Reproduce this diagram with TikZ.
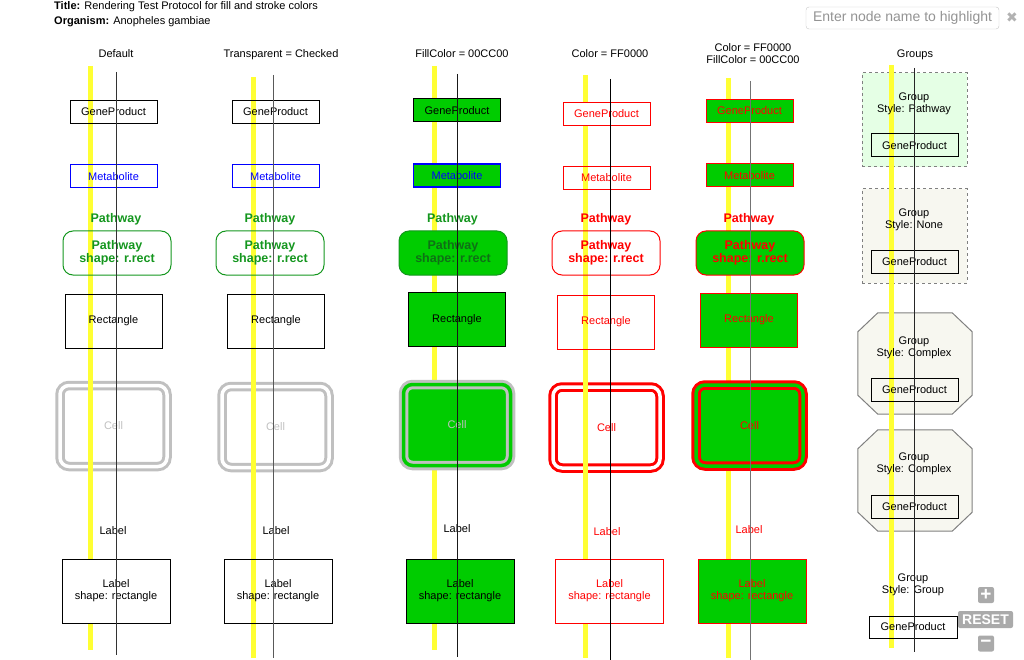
\documentclass[tikz,border=0pt]{standalone}
\usepackage{fontspec}
\setmainfont{Liberation Sans}
\newfontfamily\symfont{DejaVu Sans}
\definecolor{pwgreen}{HTML}{14961E}
\definecolor{fillgreen}{HTML}{00CC00}
\definecolor{cellgray}{HTML}{C0C0C0}
\definecolor{grppath}{HTML}{E5FFE5}
\definecolor{grpcplx}{HTML}{F7F7F0}
\definecolor{ctrlgray}{HTML}{AAAAAA}
\definecolor{hiyellow}{HTML}{FFFF33}
\tikzset{
  txt/.style={font=\fontsize{11}{12}\selectfont, inner sep=0pt, align=center},
  gene/.style={txt, draw, line width=1, minimum width=87, minimum height=23},
  metab/.style={gene, draw=blue, text=blue},
  pwtitle/.style={inner sep=0pt, font=\bfseries\fontsize{12.5}{13}\selectfont, text=pwgreen},
  pwbox/.style={pwtitle, draw=pwgreen, line width=1, rounded corners=10, minimum width=108, minimum height=44, align=center},
  rectbox/.style={txt, draw, line width=1, minimum width=97, minimum height=54},
  cellbox/.style={txt, draw=cellgray, text=cellgray, line width=3, double=white, double distance=3.5, rounded corners=9, minimum width=107, minimum height=81},
  lblbox/.style={txt, draw, line width=1, minimum width=108, minimum height=64},
  grpbox/.style={draw=gray, line width=1, dashed, minimum width=105, minimum height=94},
  grpcore/.style={inner sep=0pt, minimum width=114, minimum height=101},
  cplxline/.style={draw=gray, line width=1, fill=grpcplx},
  hiline/.style={hiyellow, line width=5},
  gline/.style={line width=1},
  ctrl/.style={fill=ctrlgray, rounded corners=2, text=white, inner sep=0pt, font=\bfseries\fontsize{14}{14}\selectfont}
}
% octagon outline of a complex group round its node
\newcommand{\grpoctagon}[1]{%
  \draw[cplxline] ([xshift=20pt]#1.north west) -- ([xshift=-20pt]#1.north east)
    -- ([yshift=-19pt]#1.north east) -- ([yshift=19pt]#1.south east)
    -- ([xshift=-20pt]#1.south east) -- ([xshift=20pt]#1.south west)
    -- ([yshift=19pt]#1.south west) -- ([yshift=-19pt]#1.north west) -- cycle;}
\begin{document}
\begin{tikzpicture}[x=1pt,y=-1pt]
  \useasboundingbox (0,0) rectangle (1024,660);
  % title and search box
  \node[txt, anchor=west] (ttl) at (54,7) {\textbf{Title:} Rendering Test Protocol for fill and stroke colors};
  \node[txt, anchor=west] (org) at (54,22) {\textbf{Organism:} Anopheles gambiae};
  \node[draw=gray!45, rounded corners=3, minimum width=193, minimum height=22, inner sep=0pt,
    text=gray!85, font=\fontsize{14}{14}\selectfont] (search) at (902.5,18) {Enter node name to highlight};
  \node[inner sep=0pt, text=gray!60, font=\symfont\fontsize{14}{14}\selectfont] (clear) at (1012,18) {✖};
  % column headers
  \node[txt] (hd1) at (116,54) {Default};
  \node[txt] (hd2) at (281,54.5) {Transparent = Checked};
  \node[txt] (hd3) at (462,54) {FillColor = 00CC00};
  \node[txt] (hd4) at (610,54) {Color = FF0000};
  \node[txt] (hd5) at (753,53.5) {Color = FF0000\\FillColor = 00CC00};
  \node[txt] (hd6) at (915,55) {Groups};
  % group shapes
  \node[grpbox, fill=grppath] (grp1) at (914.5,120) {};
  \node[grpbox, fill=grpcplx] (grp2) at (914.5,236) {};
  \node[grpcore] (grp3) at (915,363.5) {};
  \node[grpcore] (grp4) at (915,480.5) {};
  \grpoctagon{grp3}
  \grpoctagon{grp4}
  % cells without fill
  \node[cellbox] (cell1) at (113.5,426) {Cell};
  \node[cellbox] (cell2) at (275.5,427) {Cell};
  \node[cellbox, draw=red, text=red] (cell4) at (606.5,427.5) {Cell};
  % highlight lines
  \coordinate (hi1a) at (90.5,66);  \coordinate (hi1b) at (90.5,650);
  \coordinate (hi2a) at (253.5,77); \coordinate (hi2b) at (253.5,658);
  \coordinate (hi3a) at (434,66);   \coordinate (hi3b) at (434,650);
  \coordinate (hi4a) at (585.5,75); \coordinate (hi4b) at (585.5,658);
  \coordinate (hi5a) at (728.5,78); \coordinate (hi5b) at (728.5,658);
  \coordinate (hi6a) at (891.5,65); \coordinate (hi6b) at (891.5,648);
  \draw[hiline] (hi1a) -- (hi1b);
  \draw[hiline] (hi2a) -- (hi2b);
  \draw[hiline] (hi3a) -- (hi3b);
  \draw[hiline] (hi4a) -- (hi4b);
  \draw[hiline] (hi5a) -- (hi5b);
  \draw[hiline] (hi6a) -- (hi6b);
  % groups
  \node[txt] (grp1t) at (914,103.5) {Group\\Style: Pathway};
  \node[gene] (grp1g) at (914.5,145.5) {GeneProduct};
  \node[txt] (grp2t) at (914,220) {Group\\Style: None};
  \node[gene] (grp2g) at (914.5,262) {GeneProduct};
  \node[txt] (grp3t) at (914,347.5) {Group\\Style: Complex};
  \node[gene] (grp3g) at (914.5,389.5) {GeneProduct};
  \node[txt] (grp4t) at (914,464) {Group\\Style: Complex};
  \node[gene] (grp4g) at (914.5,506.5) {GeneProduct};
  \node[txt] (grp5t) at (913,584.5) {Group\\Style: Group};
  \node[gene, minimum width=88, minimum height=22] (grp5g) at (913,627) {GeneProduct};
  % default
  \node[gene] (gp1) at (113.5,112) {GeneProduct};
  \node[metab] (met1) at (113.5,176.5) {Metabolite};
  \node[pwtitle] (pw1) at (116,219) {Pathway};
  \node[pwbox] (pwb1) at (117,253) {Pathway\\shape: r.rect};
  \node[rectbox] (rect1) at (113.5,321) {Rectangle};
  \node[txt] (lbl1) at (113,531) {Label};
  \node[lblbox, fill=white] (lblb1) at (116,591) {Label\\shape: rectangle};
  % transparent
  \node[gene] (gp2) at (275.5,112) {GeneProduct};
  \node[metab] (met2) at (275.5,176.5) {Metabolite};
  \node[pwtitle] (pw2) at (270,219) {Pathway};
  \node[pwbox] (pwb2) at (270,253) {Pathway\\shape: r.rect};
  \node[rectbox] (rect2) at (276,321) {Rectangle};
  \node[txt] (lbl2) at (276,531) {Label};
  \node[lblbox] (lblb2) at (278,591) {Label\\shape: rectangle};
  % fill 00CC00
  \node[gene, fill=fillgreen] (gp3) at (457,110.5) {GeneProduct};
  \node[metab, fill=fillgreen, line width=1.3] (met3) at (457,175.5) {Metabolite};
  \node[pwtitle] (pw3) at (452.5,219) {Pathway};
  \node[pwbox, fill=fillgreen, text=pwgreen!75!black] (pwb3) at (453,253) {Pathway\\shape: r.rect};
  \node[rectbox, fill=fillgreen] (rect3) at (457,319.5) {Rectangle};
  \node[cellbox, fill=fillgreen, double=fillgreen] (cell3) at (457,425) {Cell};
  \node[txt] (lbl3) at (457,529) {Label};
  \node[lblbox, fill=fillgreen] (lblb3) at (460,591) {Label\\shape: rectangle};
  % color FF0000
  \node[gene, draw=red, text=red, fill=white] (gp4) at (606.5,114) {GeneProduct};
  \node[metab, draw=red, text=red] (met4) at (606.5,178) {Metabolite};
  \node[pwtitle, text=red] (pw4) at (606,219) {Pathway};
  \node[pwbox, draw=red, text=red] (pwb4) at (606,253) {Pathway\\shape: r.rect};
  \node[rectbox, draw=red, text=red] (rect4) at (606,322) {Rectangle};
  \node[txt, text=red] (lbl4) at (607,532) {Label};
  \node[lblbox, draw=red, text=red, fill=white] (lblb4) at (609.5,591) {Label\\shape: rectangle};
  % color FF0000, fill 00CC00
  \node[gene, draw=red, text=red, fill=fillgreen] (gp5) at (749.5,111) {GeneProduct};
  \node[metab, draw=red, text=red, fill=fillgreen] (met5) at (749.5,175.5) {Metabolite};
  \node[pwtitle, text=red] (pw5) at (749,219) {Pathway};
  \node[pwbox, draw=red, text=red, fill=fillgreen] (pwb5) at (750,253) {Pathway\\shape: r.rect};
  \node[rectbox, draw=red, text=red, fill=fillgreen] (rect5) at (749,320) {Rectangle};
  \node[cellbox, draw=red, text=red, fill=fillgreen, double=fillgreen] (cell5) at (749.5,425.5) {Cell};
  \node[txt, text=red] (lbl5) at (749,530) {Label};
  \node[lblbox, draw=red, text=red, fill=fillgreen] (lblb5) at (752,591) {Label\\shape: rectangle};
  % graphical lines
  \coordinate (gl1a) at (116.7,72);  \coordinate (gl1b) at (116.7,655);
  \coordinate (gl2a) at (273.7,75);  \coordinate (gl2b) at (273.7,658);
  \coordinate (gl3a) at (457,74);    \coordinate (gl3b) at (457,657);
  \coordinate (gl4a) at (610.3,79);  \coordinate (gl4b) at (610.3,660);
  \coordinate (gl5a) at (750.7,81);  \coordinate (gl5b) at (750.7,660);
  \coordinate (gl6a) at (914.7,68);  \coordinate (gl6b) at (914.7,652);
  \draw[gline, black!80] (gl1a) -- (gl1b);
  \draw[gline, black!65] (gl2a) -- (gl2b);
  \draw[gline, black!90] (gl3a) -- (gl3b);
  \draw[gline, black] (gl4a) -- (gl4b);
  \draw[gline, black!55] (gl5a) -- (gl5b);
  \draw[gline, black!85] (gl6a) -- (gl6b);
  % zoom controls
  \node[ctrl, minimum width=16, minimum height=16, font=\bfseries\fontsize{19}{19}\selectfont] (zin) at (986,595) {+};
  \node[ctrl, minimum width=55, minimum height=17] (zreset) at (985.5,619.5) {RESET};
  \node[ctrl, minimum width=16, minimum height=16, font=\bfseries\fontsize{19}{19}\selectfont] (zout) at (986,643.5) {−};
\end{tikzpicture}
\end{document}
